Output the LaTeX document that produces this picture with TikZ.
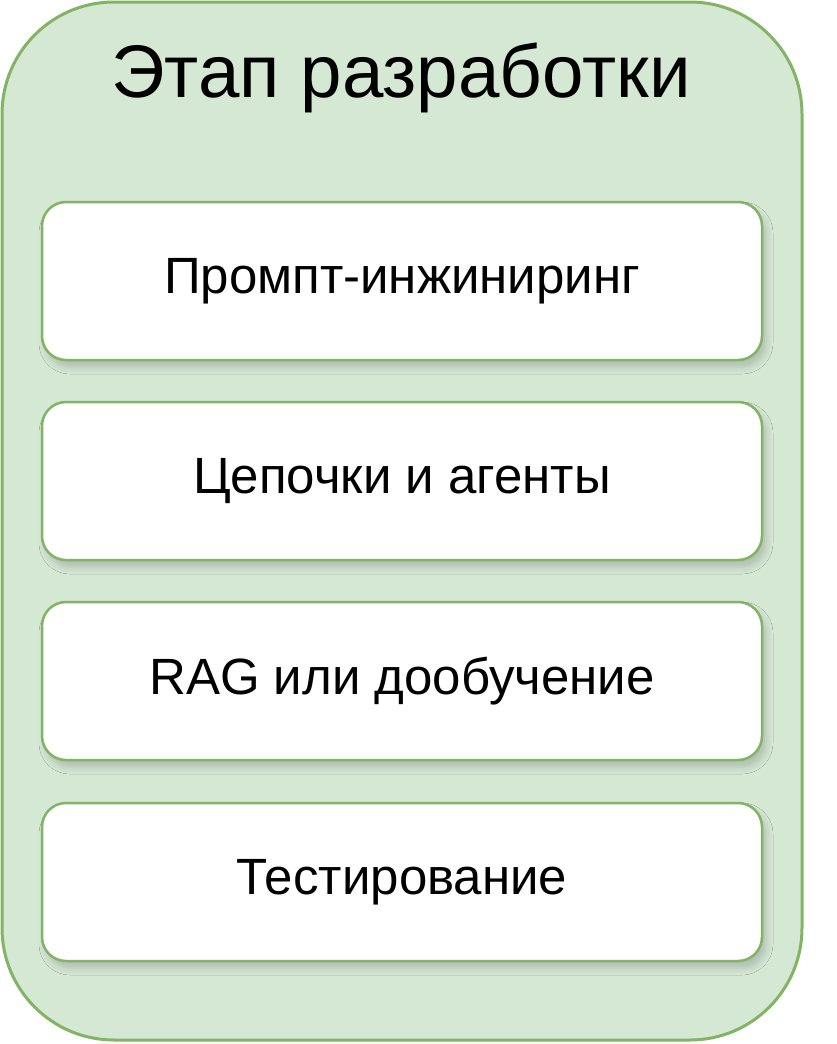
\documentclass[tikz,border=0pt]{standalone}
\usepackage{fontspec}
\setmainfont{Liberation Sans}
\usetikzlibrary{shadows.blur}
\definecolor{grfill}{HTML}{D5E8D4}
\definecolor{grline}{HTML}{82B366}
\begin{document}
\begin{tikzpicture}[x=1pt,y=-1pt,
  outerbox/.style={draw=grline,fill=grfill,line width=3pt,rounded corners=112pt},
  stepbox/.style={draw=grline,fill=white,line width=2.5pt,rounded corners=24pt,
    minimum width=720pt,minimum height=158pt,inner sep=0pt,
    blur shadow={shadow xshift=4pt,shadow yshift=-7pt,shadow blur radius=7pt,shadow opacity=18},
    font=\fontsize{51}{61}\selectfont},
  titletext/.style={font=\fontsize{74.5}{89}\selectfont,inner sep=0pt,anchor=base}]
\useasboundingbox (0,0) rectangle (836,1044);
\draw[outerbox] (2,2) rectangle (802,1040);
\node[titletext] (title) at (401,97) {Этап разработки};
\node[stepbox] (s1) at (402,281) {Промпт-инжиниринг};
\node[stepbox] (s2) at (402,481) {Цепочки и агенты};
\node[stepbox] (s3) at (402,681) {RAG или дообучение};
\node[stepbox] (s4) at (402,882) {Тестирование};
\end{tikzpicture}
\end{document}
